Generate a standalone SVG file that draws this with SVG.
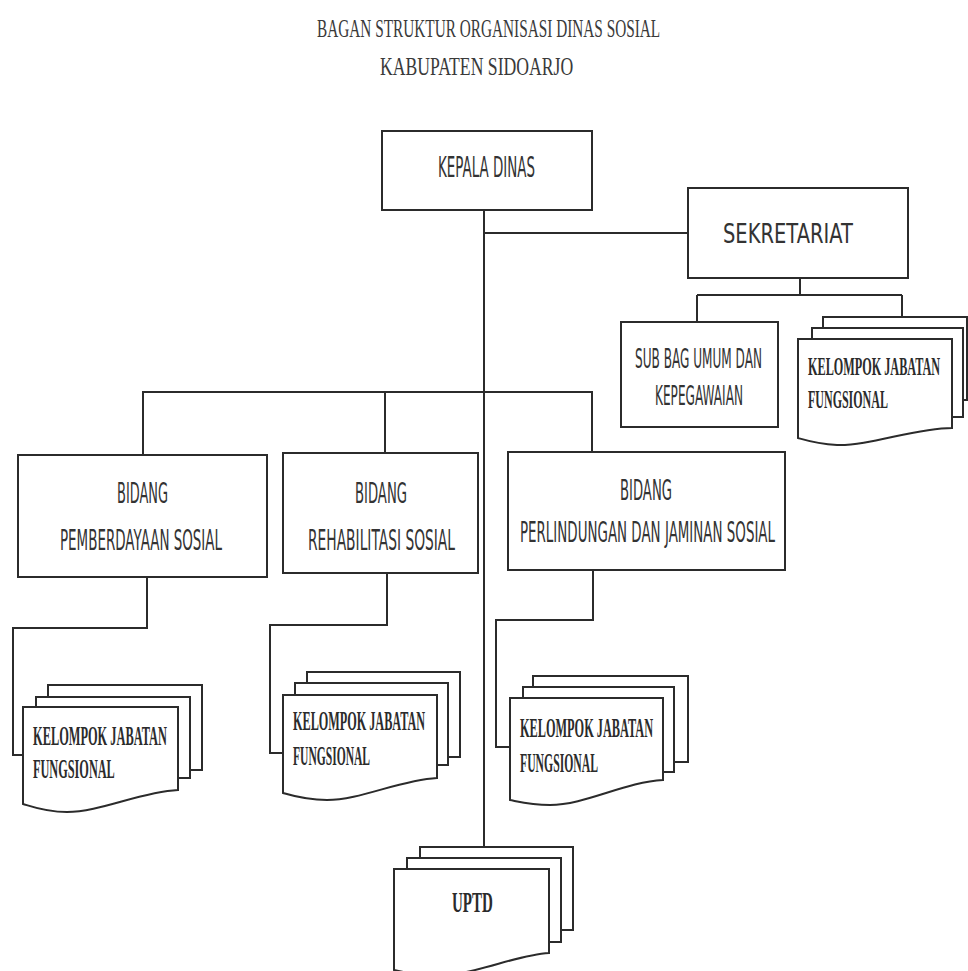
<svg xmlns="http://www.w3.org/2000/svg" width="968" height="971" viewBox="0 0 968 971">
<style>
.bx{fill:#fff;stroke:#2b2b2b;stroke-width:2}
.sh{fill:#fff;stroke:#2b2b2b;stroke-width:2;stroke-linejoin:miter}
.cn{fill:none;stroke:#2b2b2b;stroke-width:2}
.t{font-family:"DejaVu Sans",Tahoma,sans-serif;fill:#333}
.k{font-family:"Liberation Serif","Times New Roman",serif;font-weight:bold;fill:#2b2b2b}
.h{font-family:"Liberation Serif","Times New Roman",serif;fill:#3a3a3a}
</style>
<rect width="968" height="971" fill="#fff"/>
<g id="title">
<text class="h" transform="translate(317,37) scale(0.6,1)" font-size="26" textLength="572" lengthAdjust="spacingAndGlyphs">BAGAN STRUKTUR ORGANISASI DINAS SOSIAL</text>
<text class="h" transform="translate(380,75) scale(0.6,1)" font-size="26" textLength="322" lengthAdjust="spacingAndGlyphs">KABUPATEN SIDOARJO</text>
</g>
<g id="connectors">
<path class="cn" d="M484 210 V847"/>
<path class="cn" d="M484 233 H688"/>
<path class="cn" d="M800 278 V295 M697 295 H902 M697 295 V322 M902 295 V317"/>
<path class="cn" d="M143 455 V392 H592 V452 M385 392 V453"/>
<path class="cn" d="M147 577 V628 H13 V755 H23"/>
<path class="cn" d="M387 573 V625 H270 V753 H283"/>
<path class="cn" d="M593 570 V620 H496 V747 H510"/>
</g>
<g id="kepala-dinas">
<rect class="bx" x="382" y="131" width="210" height="79"/>
<text class="t" transform="translate(438,177) scale(0.5,1)" font-size="28" textLength="194" lengthAdjust="spacingAndGlyphs">KEPALA DINAS</text>
</g>
<g id="sekretariat">
<rect class="bx" x="688" y="188" width="220" height="90"/>
<text class="t" transform="translate(723,243) scale(0.5,1)" font-size="27" textLength="260" lengthAdjust="spacingAndGlyphs">SEKRETARIAT</text>
</g>
<g id="subbag-umum">
<rect class="bx" x="621" y="322" width="157" height="105"/>
<text class="t" transform="translate(635,368) scale(0.5,1)" font-size="27" textLength="254" lengthAdjust="spacingAndGlyphs">SUB BAG UMUM DAN</text>
<text class="t" transform="translate(655,405) scale(0.5,1)" font-size="27" textLength="176" lengthAdjust="spacingAndGlyphs">KEPEGAWAIAN</text>
</g>
<g id="kjf-sekretariat">
<rect class="sh" x="823" y="317" width="144" height="83"/>
<rect class="sh" x="812" y="328" width="151" height="89"/>
<path class="sh" d="M798 339 H952 V428 C915 428 870 446 837 445 C818 444 805 440 798 438 Z"/>
<text class="k" transform="translate(808,375) scale(0.47,1)" font-size="26" textLength="281" lengthAdjust="spacingAndGlyphs">KELOMPOK JABATAN</text>
<text class="k" transform="translate(808,408) scale(0.47,1)" font-size="26" textLength="170" lengthAdjust="spacingAndGlyphs">FUNGSIONAL</text>
</g>
<g id="bidang-pemberdayaan">
<rect class="bx" x="18" y="455" width="249" height="122"/>
<text class="t" transform="translate(117,503) scale(0.5,1)" font-size="29" textLength="102" lengthAdjust="spacingAndGlyphs">BIDANG</text>
<text class="t" transform="translate(60,550) scale(0.5,1)" font-size="29" textLength="324" lengthAdjust="spacingAndGlyphs">PEMBERDAYAAN SOSIAL</text>
</g>
<g id="bidang-rehabilitasi">
<rect class="bx" x="283" y="453" width="195" height="120"/>
<text class="t" transform="translate(355,503) scale(0.5,1)" font-size="29" textLength="104" lengthAdjust="spacingAndGlyphs">BIDANG</text>
<text class="t" transform="translate(308,550) scale(0.5,1)" font-size="29" textLength="294" lengthAdjust="spacingAndGlyphs">REHABILITASI SOSIAL</text>
</g>
<g id="bidang-perlindungan">
<rect class="bx" x="508" y="452" width="277" height="118"/>
<text class="t" transform="translate(620,500) scale(0.5,1)" font-size="29" textLength="104" lengthAdjust="spacingAndGlyphs">BIDANG</text>
<text class="t" transform="translate(520,542) scale(0.5,1)" font-size="29" textLength="510" lengthAdjust="spacingAndGlyphs">PERLINDUNGAN DAN JAMINAN SOSIAL</text>
</g>
<g id="kjf-pemberdayaan">
<rect class="sh" x="48" y="685" width="154" height="85"/>
<rect class="sh" x="36" y="697" width="154" height="81"/>
<path class="sh" d="M23 707 H178 V790 C140 792 100 812 67 812 C45 812 30 806 23 804 Z"/>
<text class="k" transform="translate(33,745) scale(0.47,1)" font-size="27" textLength="285" lengthAdjust="spacingAndGlyphs">KELOMPOK JABATAN</text>
<text class="k" transform="translate(33,778) scale(0.47,1)" font-size="27" textLength="174" lengthAdjust="spacingAndGlyphs">FUNGSIONAL</text>
</g>
<g id="kjf-rehabilitasi">
<rect class="sh" x="307" y="672" width="153" height="85"/>
<rect class="sh" x="295" y="683" width="153" height="82"/>
<path class="sh" d="M283 695 H437 V778 C400 780 360 800 327 800 C305 800 290 795 283 793 Z"/>
<text class="k" transform="translate(293,730) scale(0.47,1)" font-size="27" textLength="281" lengthAdjust="spacingAndGlyphs">KELOMPOK JABATAN</text>
<text class="k" transform="translate(293,765) scale(0.47,1)" font-size="27" textLength="164" lengthAdjust="spacingAndGlyphs">FUNGSIONAL</text>
</g>
<g id="kjf-perlindungan">
<rect class="sh" x="533" y="676" width="155" height="86"/>
<rect class="sh" x="523" y="687" width="151" height="85"/>
<path class="sh" d="M510 698 H663 V780 C625 782 585 805 550 805 C530 805 516 801 510 800 Z"/>
<text class="k" transform="translate(520,737) scale(0.47,1)" font-size="27" textLength="283" lengthAdjust="spacingAndGlyphs">KELOMPOK JABATAN</text>
<text class="k" transform="translate(520,772) scale(0.47,1)" font-size="27" textLength="166" lengthAdjust="spacingAndGlyphs">FUNGSIONAL</text>
</g>
<g id="uptd">
<rect class="sh" x="420" y="847" width="153" height="83"/>
<rect class="sh" x="407" y="858" width="154" height="84"/>
<path class="sh" d="M394 869 H549 V953 C515 955 475 975 440 975 C420 975 402 972 394 970 Z"/>
<text class="k" transform="translate(452,912) scale(0.47,1)" font-size="29" textLength="87" lengthAdjust="spacingAndGlyphs">UPTD</text>
</g>
</svg>
